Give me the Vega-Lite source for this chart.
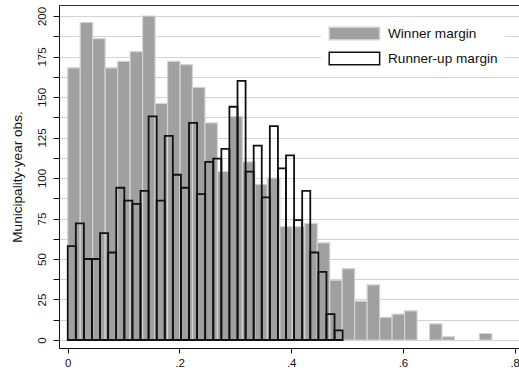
{
  "$schema": "https://vega.github.io/schema/vega-lite/v6.json",
  "width": 460,
  "height": 343,
  "autosize": {"type": "none"},
  "padding": {"left": 59, "top": 5, "right": 0, "bottom": 25},
  "background": "white",
  "config": {
    "font": "Liberation Sans",
    "view": {"stroke": "#333333", "strokeWidth": 1},
    "axis": {"labelFont": "Liberation Sans", "titleFont": "Liberation Sans", "labelColor": "#111111", "titleColor": "#111111", "domainColor": "#111111", "tickColor": "#111111", "domainWidth": 1, "tickWidth": 1}
  },
  "datasets": {
    "winner": [
      {"series": "Winner margin", "bin_start": 0, "bin_end": 0.02233, "count": 168},
      {"series": "Winner margin", "bin_start": 0.02233, "bin_end": 0.04466, "count": 196},
      {"series": "Winner margin", "bin_start": 0.04466, "bin_end": 0.06699, "count": 186},
      {"series": "Winner margin", "bin_start": 0.06699, "bin_end": 0.08932, "count": 168},
      {"series": "Winner margin", "bin_start": 0.08932, "bin_end": 0.11165, "count": 172},
      {"series": "Winner margin", "bin_start": 0.11165, "bin_end": 0.13398, "count": 178},
      {"series": "Winner margin", "bin_start": 0.13398, "bin_end": 0.15631, "count": 200},
      {"series": "Winner margin", "bin_start": 0.15631, "bin_end": 0.17864, "count": 146},
      {"series": "Winner margin", "bin_start": 0.17864, "bin_end": 0.20097, "count": 172},
      {"series": "Winner margin", "bin_start": 0.20097, "bin_end": 0.2233, "count": 170},
      {"series": "Winner margin", "bin_start": 0.2233, "bin_end": 0.24563, "count": 156},
      {"series": "Winner margin", "bin_start": 0.24563, "bin_end": 0.26796, "count": 134},
      {"series": "Winner margin", "bin_start": 0.26796, "bin_end": 0.29029, "count": 104},
      {"series": "Winner margin", "bin_start": 0.29029, "bin_end": 0.31262, "count": 138},
      {"series": "Winner margin", "bin_start": 0.31262, "bin_end": 0.33495, "count": 110},
      {"series": "Winner margin", "bin_start": 0.33495, "bin_end": 0.35728, "count": 96},
      {"series": "Winner margin", "bin_start": 0.35728, "bin_end": 0.37961, "count": 100},
      {"series": "Winner margin", "bin_start": 0.37961, "bin_end": 0.40194, "count": 70},
      {"series": "Winner margin", "bin_start": 0.40194, "bin_end": 0.42427, "count": 70},
      {"series": "Winner margin", "bin_start": 0.42427, "bin_end": 0.4466, "count": 72},
      {"series": "Winner margin", "bin_start": 0.4466, "bin_end": 0.46893, "count": 60},
      {"series": "Winner margin", "bin_start": 0.46893, "bin_end": 0.49126, "count": 37},
      {"series": "Winner margin", "bin_start": 0.49126, "bin_end": 0.51359, "count": 44},
      {"series": "Winner margin", "bin_start": 0.51359, "bin_end": 0.53592, "count": 24},
      {"series": "Winner margin", "bin_start": 0.53592, "bin_end": 0.55825, "count": 34},
      {"series": "Winner margin", "bin_start": 0.55825, "bin_end": 0.58058, "count": 14},
      {"series": "Winner margin", "bin_start": 0.58058, "bin_end": 0.60291, "count": 16},
      {"series": "Winner margin", "bin_start": 0.60291, "bin_end": 0.62524, "count": 18},
      {"series": "Winner margin", "bin_start": 0.64757, "bin_end": 0.6699, "count": 10},
      {"series": "Winner margin", "bin_start": 0.6699, "bin_end": 0.69223, "count": 2},
      {"series": "Winner margin", "bin_start": 0.73689, "bin_end": 0.75922, "count": 4}
    ],
    "runner": [
      {"series": "Runner-up margin", "bin_start": 0, "bin_end": 0.01447, "count": 58},
      {"series": "Runner-up margin", "bin_start": 0.01447, "bin_end": 0.02894, "count": 72},
      {"series": "Runner-up margin", "bin_start": 0.02894, "bin_end": 0.04341, "count": 50},
      {"series": "Runner-up margin", "bin_start": 0.04341, "bin_end": 0.05788, "count": 50},
      {"series": "Runner-up margin", "bin_start": 0.05788, "bin_end": 0.07235, "count": 66},
      {"series": "Runner-up margin", "bin_start": 0.07235, "bin_end": 0.08682, "count": 54},
      {"series": "Runner-up margin", "bin_start": 0.08682, "bin_end": 0.10129, "count": 94},
      {"series": "Runner-up margin", "bin_start": 0.10129, "bin_end": 0.11576, "count": 86},
      {"series": "Runner-up margin", "bin_start": 0.11576, "bin_end": 0.13023, "count": 84},
      {"series": "Runner-up margin", "bin_start": 0.13023, "bin_end": 0.1447, "count": 92},
      {"series": "Runner-up margin", "bin_start": 0.1447, "bin_end": 0.15917, "count": 138},
      {"series": "Runner-up margin", "bin_start": 0.15917, "bin_end": 0.17364, "count": 86},
      {"series": "Runner-up margin", "bin_start": 0.17364, "bin_end": 0.18811, "count": 126},
      {"series": "Runner-up margin", "bin_start": 0.18811, "bin_end": 0.20258, "count": 102},
      {"series": "Runner-up margin", "bin_start": 0.20258, "bin_end": 0.21705, "count": 94},
      {"series": "Runner-up margin", "bin_start": 0.21705, "bin_end": 0.23152, "count": 134},
      {"series": "Runner-up margin", "bin_start": 0.23152, "bin_end": 0.24599, "count": 90},
      {"series": "Runner-up margin", "bin_start": 0.24599, "bin_end": 0.26046, "count": 110},
      {"series": "Runner-up margin", "bin_start": 0.26046, "bin_end": 0.27493, "count": 112},
      {"series": "Runner-up margin", "bin_start": 0.27493, "bin_end": 0.2894, "count": 118},
      {"series": "Runner-up margin", "bin_start": 0.2894, "bin_end": 0.30387, "count": 144},
      {"series": "Runner-up margin", "bin_start": 0.30387, "bin_end": 0.31834, "count": 160},
      {"series": "Runner-up margin", "bin_start": 0.31834, "bin_end": 0.33281, "count": 104},
      {"series": "Runner-up margin", "bin_start": 0.33281, "bin_end": 0.34728, "count": 120},
      {"series": "Runner-up margin", "bin_start": 0.34728, "bin_end": 0.36175, "count": 88},
      {"series": "Runner-up margin", "bin_start": 0.36175, "bin_end": 0.37622, "count": 132},
      {"series": "Runner-up margin", "bin_start": 0.37622, "bin_end": 0.39069, "count": 106},
      {"series": "Runner-up margin", "bin_start": 0.39069, "bin_end": 0.40516, "count": 114},
      {"series": "Runner-up margin", "bin_start": 0.40516, "bin_end": 0.41963, "count": 74},
      {"series": "Runner-up margin", "bin_start": 0.41963, "bin_end": 0.4341, "count": 92},
      {"series": "Runner-up margin", "bin_start": 0.4341, "bin_end": 0.44857, "count": 54},
      {"series": "Runner-up margin", "bin_start": 0.44857, "bin_end": 0.46304, "count": 42},
      {"series": "Runner-up margin", "bin_start": 0.46304, "bin_end": 0.47751, "count": 16},
      {"series": "Runner-up margin", "bin_start": 0.47751, "bin_end": 0.49198, "count": 6}
    ]
  },
  "encoding": {
    "x": {
      "field": "bin_start", "type": "quantitative",
      "scale": {"domain": [-0.01564, 0.8077], "nice": false, "zero": false},
      "axis": {
        "title": null, "values": [0, 0.2, 0.4, 0.6, 0.8], "grid": false,
        "labelExpr": "datum.value == 0 ? '0' : substring(format(datum.value, '.1f'), 1)",
        "tickSize": 5, "labelPadding": 4, "labelFontSize": 11.5, "labelFlush": false, "labelOverlap": false
      }
    },
    "x2": {"field": "bin_end"},
    "y": {
      "field": "count", "type": "quantitative",
      "scale": {"domain": [-4.94, 206.8], "nice": false, "zero": false},
      "axis": {
        "title": "Municipality-year obs.",
        "values": [0, 12.5, 25, 37.5, 50, 62.5, 75, 87.5, 100, 112.5, 125, 137.5, 150, 162.5, 175, 187.5, 200],
        "labelExpr": "datum.value % 25 == 0 ? datum.label : ''",
        "labelAngle": -90, "labelAlign": "center", "labelBaseline": "alphabetic",
        "labelPadding": 8, "tickSize": 6, "labelFontSize": 11.5, "labelFlush": false, "labelOverlap": false,
        "grid": true, "gridColor": "#d3d3d3", "gridWidth": 1,
        "titleFontSize": 13.6, "titleFontWeight": "normal", "titlePadding": 12
      }
    },
    "y2": {"datum": 0},
    "fill": {
      "field": "series", "type": "nominal",
      "scale": {"domain": ["Winner margin", "Runner-up margin"], "range": ["#a0a0a0", "rgba(255,255,255,0)"]},
      "legend": {
        "title": null, "orient": "top-right", "offset": 14, "padding": 7,
        "fillColor": "white", "strokeColor": null,
        "symbolType": "M-1,-1H7V1H-1Z", "symbolSize": 159, "symbolStrokeWidth": 1.5,
        "labelFont": "Liberation Sans", "labelFontSize": 13.6, "labelColor": "#111111",
        "labelOffset": 45, "rowPadding": 6
      }
    },
    "stroke": {
      "field": "series", "type": "nominal",
      "scale": {"domain": ["Winner margin", "Runner-up margin"], "range": ["#d3d3d3", "#111111"]},
      "legend": {
        "title": null, "orient": "top-right", "offset": 14, "padding": 7,
        "fillColor": "white", "strokeColor": null,
        "symbolType": "M-1,-1H7V1H-1Z", "symbolSize": 159, "symbolStrokeWidth": 1.5,
        "labelFont": "Liberation Sans", "labelFontSize": 13.6, "labelColor": "#111111",
        "labelOffset": 45, "rowPadding": 6
      }
    }
  },
  "layer": [
    {"data": {"name": "winner"}, "mark": {"type": "bar", "strokeWidth": 1.2}},
    {"data": {"name": "runner"}, "mark": {"type": "bar", "strokeWidth": 1.8}}
  ]
}
